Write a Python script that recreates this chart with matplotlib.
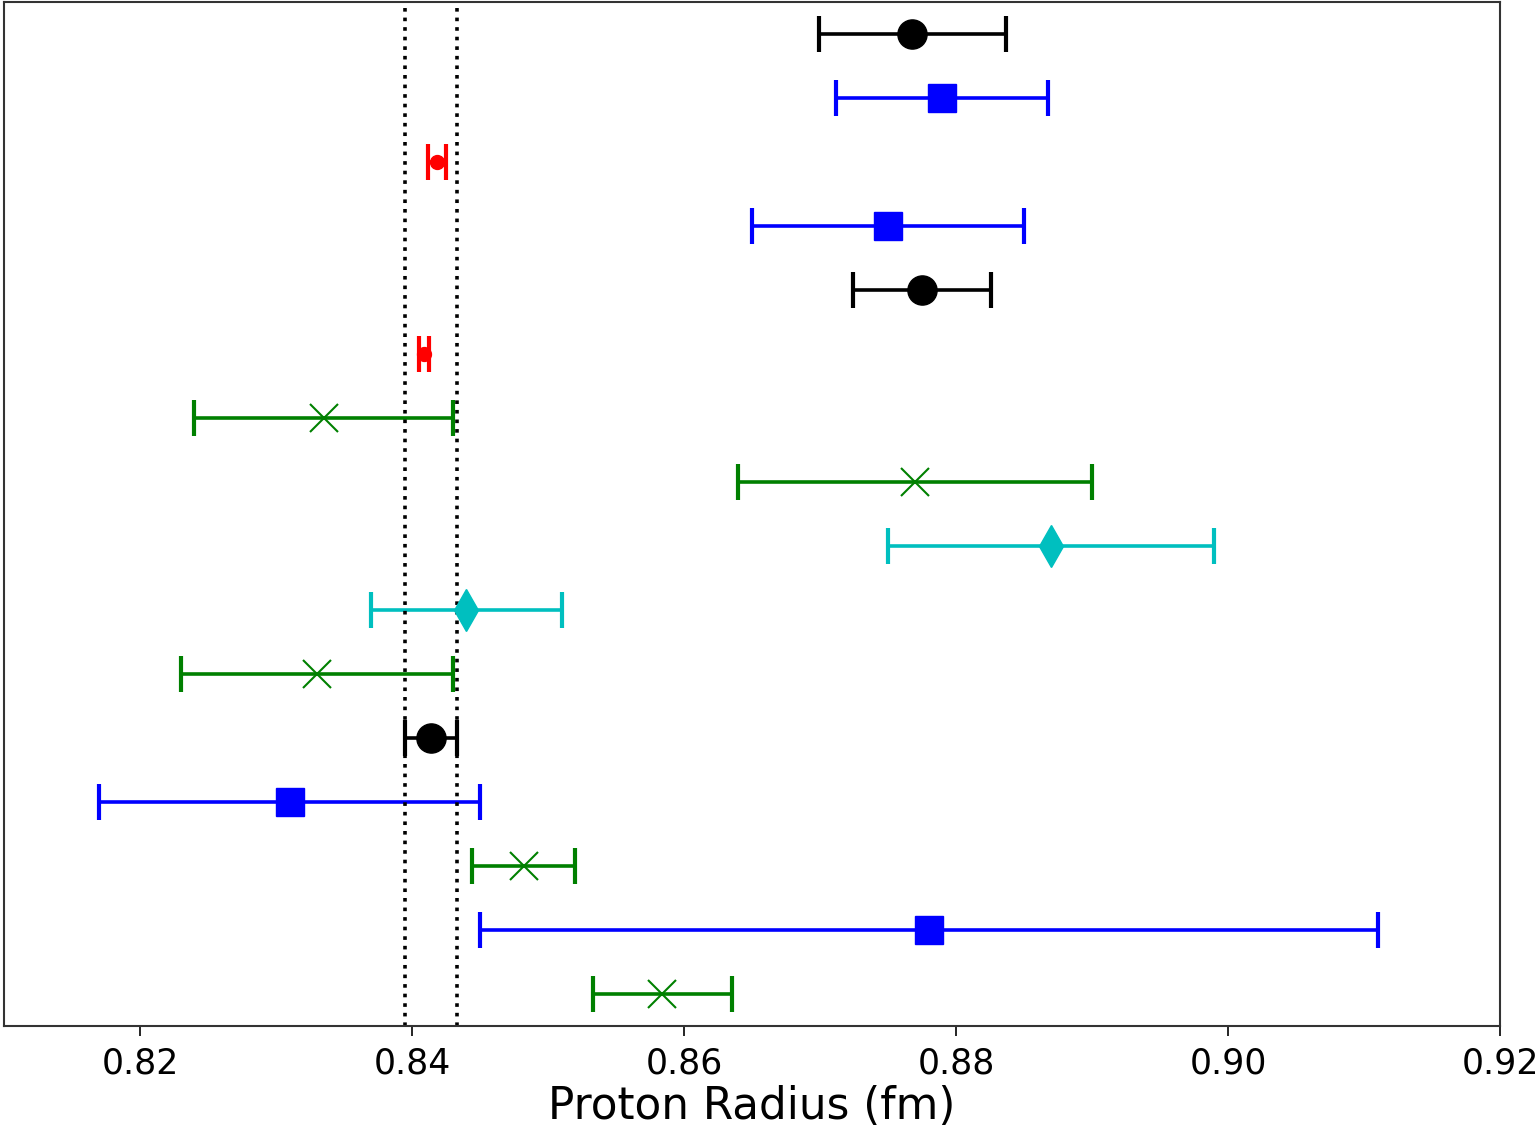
import numpy as np
import matplotlib
matplotlib.use('Agg')
import matplotlib.pyplot as plt

# измерения радиуса протона (сверху вниз), фм
radius = [0.8768, 0.879, 0.84184, 0.875, 0.8775, 0.84087, 0.8335, 0.877,
          0.887, 0.844, 0.833, 0.8414, 0.831, 0.8482, 0.878, 0.8584]
sigma = [0.0069, 0.0078, 0.00067, 0.010, 0.0051, 0.00039, 0.0095, 0.013,
         0.012, 0.007, 0.010, 0.0019, 0.014, 0.0038, 0.033, 0.0051]
# тип измерения для каждой точки
kind = ['codata', 'scatt', 'muon', 'scatt', 'codata', 'muon', 'hydro', 'hydro',
        'other', 'other', 'hydro', 'codata', 'scatt', 'hydro', 'scatt', 'hydro']

# полоса CODATA 2018
band_center = 0.8414
band_sigma = 0.0019

xticks = [0.82, 0.84, 0.86, 0.88, 0.90, 0.92]

styles = {
    'codata': dict(color='k', marker='o', ms=21),
    'scatt': dict(color='b', marker='s', ms=20.5),
    'muon': dict(color='r', marker='o', ms=10),
    'hydro': dict(color='g', marker='x', ms=20, mew=1.5),
    'other': dict(color='c', marker='d', ms=21),
}

fig = plt.figure(figsize=(15.38, 11.31), dpi=100)
ax = fig.add_axes([0.0026, 0.0928, 0.9727, 0.9054])

n = len(radius)
ypos = np.arange(n)[::-1]
for y, r, s, k in zip(ypos, radius, sigma, kind):
    st = styles[k]
    line, caps, bars = ax.errorbar(r, y, xerr=s, fmt=st['marker'],
                                   color=st['color'], ms=st['ms'],
                                   elinewidth=2.6, capsize=13, capthick=3)
    line.set_markeredgewidth(st.get('mew', 1.0))

ax.axvline(band_center - band_sigma, color='k', ls=':', lw=2.6)
ax.axvline(band_center + band_sigma, color='k', ls=':', lw=2.6)

ax.set_xlim(0.81, 0.92)
ax.set_ylim(-0.5, n - 0.5)
ax.set_xticks(xticks)
ax.set_xticklabels(['%.2f' % t for t in xticks])
ax.set_yticks([])
ax.tick_params(axis='x', labelsize=25, length=7, width=1.2, pad=8)
ax.set_xlabel('Proton Radius (fm)', fontsize=31.5, labelpad=3)
for sp in ax.spines.values():
    sp.set_linewidth(1.5)
    sp.set_color('#333333')

fig.savefig('out.png', dpi=100)
